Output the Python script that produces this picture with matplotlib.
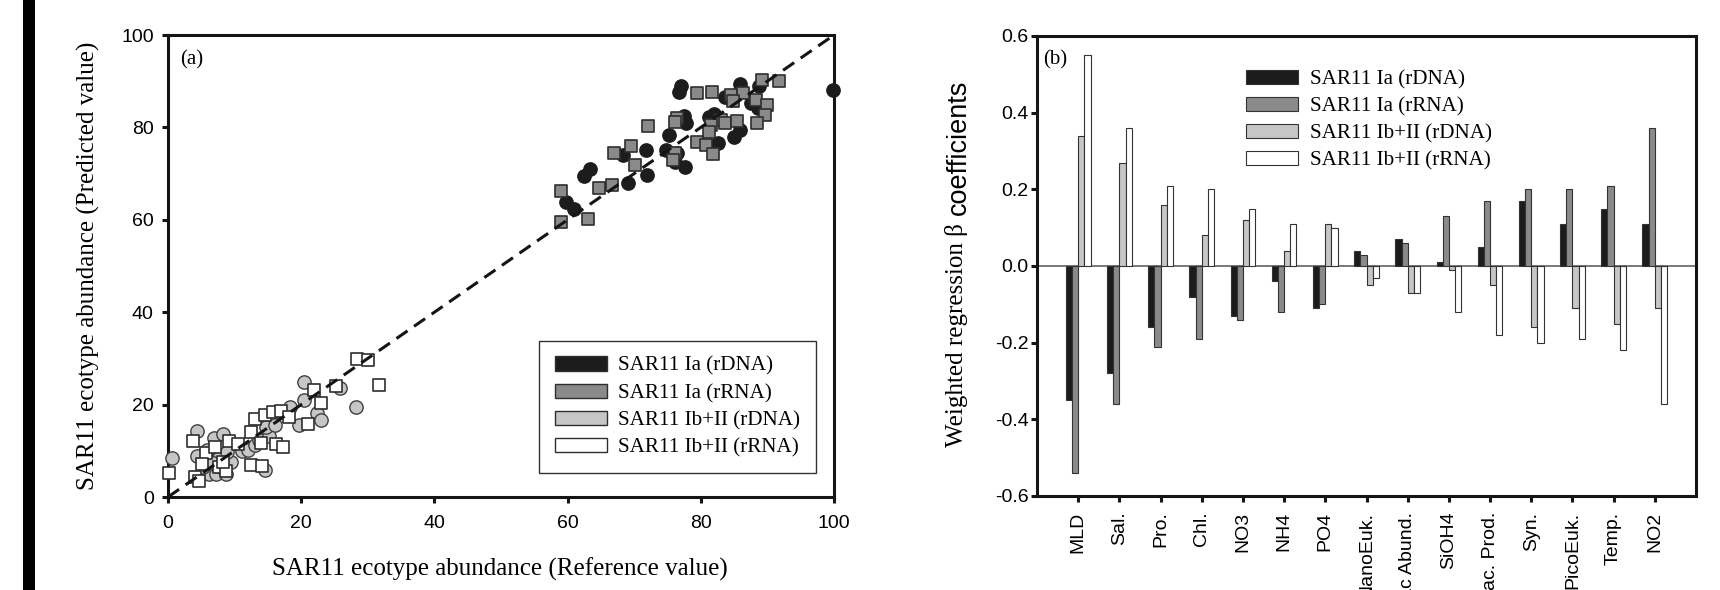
import matplotlib
matplotlib.use('Agg')
import matplotlib.pyplot as plt
from matplotlib.patches import Patch, Rectangle
import numpy as np

plt.rcParams['font.family'] = ['Liberation Sans', 'DejaVu Sans']
plt.rcParams['axes.unicode_minus'] = False

# ---------------- data: panel (a) ----------------
ia_rdna_x = [77.0, 76.8, 85.9, 88.8, 83.6, 87.6, 88.6, 77.5, 77.8, 82.0, 81.3, 85.9, 85.0,
             82.6, 75.3, 74.8, 76.5, 77.6, 76.1, 71.8, 68.3, 71.9, 69.0, 63.4, 62.5, 59.7,
             61.0, 99.8]
ia_rdna_y = [89.0, 87.6, 89.5, 89.0, 86.6, 85.2, 84.1, 82.5, 80.9, 83.0, 82.3, 79.4, 78.0,
             76.6, 78.4, 75.1, 74.4, 71.5, 72.6, 75.1, 74.0, 69.7, 67.9, 71.1, 69.5, 63.8,
             62.3, 88.2]

ia_rrna_x = [89.2, 91.8, 79.4, 81.7, 84.6, 86.3, 84.9, 88.3, 90.0, 89.6, 88.4, 76.5, 76.1,
             72.0, 83.1, 83.7, 85.5, 81.5, 81.2, 79.4, 80.8, 81.9, 76.2, 75.8, 69.5, 67.0,
             70.1, 64.7, 66.7, 59.0, 59.0, 63.0]
ia_rrna_y = [90.3, 90.0, 87.4, 87.7, 87.0, 87.5, 85.7, 85.9, 84.8, 82.7, 81.0, 82.0, 81.1,
             80.2, 81.6, 81.0, 81.4, 80.5, 79.1, 76.9, 76.1, 74.2, 74.4, 72.9, 76.0, 74.4,
             71.9, 66.9, 67.5, 66.2, 59.6, 60.2]

ib_rdna_x = [0.6, 4.3, 6.9, 8.2, 4.3, 5.9, 7.7, 9.5, 8.9, 11.1, 12.0, 13.0, 6.2, 7.2, 8.7,
             14.5, 13.7, 15.2, 14.7, 16.0, 18.3, 19.7, 20.4, 20.4, 22.3, 22.9, 25.8, 28.2,
             5.2, 7.9, 6.7]
ib_rdna_y = [8.4, 14.3, 12.7, 13.6, 8.9, 10.2, 8.5, 7.6, 9.8, 10.0, 10.2, 11.3, 5.0, 5.0, 5.0,
             5.8, 12.3, 13.2, 15.2, 15.6, 19.4, 15.6, 25.0, 21.1, 18.1, 16.7, 23.7, 19.5,
             6.6, 6.6, 7.3]

ib_rrna_x = [0.1, 3.8, 5.7, 7.1, 5.1, 4.1, 4.6, 7.6, 8.7, 9.1, 10.5, 12.5, 13.1, 13.9, 14.6,
             15.7, 17.0, 18.1, 16.2, 17.2, 12.5, 14.1, 21.0, 21.9, 22.9, 25.2, 28.4, 30.0,
             31.7, 8.2]
ib_rrna_y = [5.1, 12.2, 9.5, 10.8, 7.1, 4.4, 3.5, 6.4, 5.7, 12.1, 11.5, 14.1, 16.8, 11.6, 17.7,
             18.5, 18.6, 17.4, 11.5, 10.8, 6.9, 6.8, 15.8, 23.2, 20.4, 24.0, 29.9, 29.7,
             24.2, 7.6]

series_labels = ['SAR11 Ia (rDNA)', 'SAR11 Ia (rRNA)', 'SAR11 Ib+II (rDNA)', 'SAR11 Ib+II (rRNA)']

# ---------------- data: panel (b) ----------------
variables = ['MLD', 'Sal.', 'Pro.', 'Chl.', 'NO3', 'NH4', 'PO4', 'NanoEuk.', 'Bac Abund.',
             'SiOH4', 'Bac. Prod.', 'Syn.', 'PicoEuk.', 'Temp.', 'NO2']
beta_ia_rdna = [-0.35, -0.28, -0.16, -0.08, -0.13, -0.04, -0.11, 0.04, 0.07, 0.01, 0.05, 0.17, 0.11, 0.15, 0.11]
beta_ia_rrna = [-0.54, -0.36, -0.21, -0.19, -0.14, -0.12, -0.10, 0.03, 0.06, 0.13, 0.17, 0.20, 0.20, 0.21, 0.36]
beta_ib_rdna = [0.34, 0.27, 0.16, 0.08, 0.12, 0.04, 0.11, -0.05, -0.07, -0.01, -0.05, -0.16, -0.11, -0.15, -0.11]
beta_ib_rrna = [0.55, 0.36, 0.21, 0.20, 0.15, 0.11, 0.10, -0.03, -0.07, -0.12, -0.18, -0.20, -0.19, -0.22, -0.36]

# ---------------- styling ----------------
W, H = 1720, 590
def fx(px): return px / W
def fy(py): return 1 - py / H

C_BLACK = '#1c1c1c'
C_DARK = '#8a8a8a'
C_LIGHT = '#c6c6c6'
C_WHITE = '#ffffff'
EDGE = '#2e2e2e'
SERIF = ['Liberation Serif', 'DejaVu Serif']
SANS = ['Liberation Sans', 'DejaVu Sans']

fig = plt.figure(figsize=(17.2, 5.9), dpi=100)
fig.patches.append(Rectangle((fx(23), 0), fx(35) - fx(23), 1, transform=fig.transFigure,
                             facecolor='black', edgecolor='none'))

# ---------------- panel (a) ----------------
ax1 = fig.add_axes([fx(168), fy(497), fx(834) - fx(168), (497 - 35) / H])
kw_c = dict(marker='o', s=92, linewidths=1.0, clip_on=False, zorder=3)
kw_s = dict(marker='s', s=74, linewidths=1.2, clip_on=False, zorder=4)
ax1.scatter(ia_rdna_x, ia_rdna_y, facecolor=C_BLACK, edgecolor=C_BLACK, **kw_c)
ax1.scatter(ib_rdna_x, ib_rdna_y, facecolor=C_LIGHT, edgecolor='#404040', **kw_c)
ax1.scatter(ia_rrna_x, ia_rrna_y, facecolor=C_DARK, edgecolor=EDGE, **kw_s)
ax1.scatter(ib_rrna_x, ib_rrna_y, facecolor=C_WHITE, edgecolor=EDGE, **kw_s)
ax1.plot([0, 100], [0, 100], color='#151515', lw=2.2, ls=(0, (4.4, 2.6)), zorder=5)

ax1.set_xlim(0, 100)
ax1.set_ylim(0, 100)
ax1.set_xticks([0, 20, 40, 60, 80, 100])
ax1.set_yticks([0, 20, 40, 60, 80, 100])
for sp in ax1.spines.values():
    sp.set_linewidth(2.2)
    sp.set_color('#151515')
ax1.tick_params(axis='both', direction='out', length=4.2, width=2.2, color='#151515',
                labelsize=14, top=False, right=False)
ax1.tick_params(axis='x', pad=9)
ax1.tick_params(axis='y', pad=6)
ax1.text(0.018, 0.968, '(a)', transform=ax1.transAxes, ha='left', va='top',
         fontsize=15, family=SERIF)

handles = [Patch(facecolor=c, edgecolor=EDGE, linewidth=1.0)
           for c in [C_BLACK, C_DARK, C_LIGHT, C_WHITE]]
leg1 = ax1.legend(handles, series_labels, loc='lower right', bbox_to_anchor=(0.973, 0.052),
                  borderaxespad=0, prop={'family': SERIF, 'size': 15.2},
                  handlelength=2.45, handleheight=0.65, handletextpad=0.55,
                  labelspacing=0.36, borderpad=0.75, fancybox=False, framealpha=1)
leg1.get_frame().set_edgecolor('#333333')
leg1.get_frame().set_linewidth(1.0)

fig.text(fx(88), fy(266), 'SAR11 ecotype abundance (Predicted value)', rotation=90,
         ha='center', va='center', fontsize=18, family=SERIF)
fig.text(fx(500), fy(569), 'SAR11 ecotype abundance (Reference value)',
         ha='center', va='center', fontsize=18, family=SERIF)

# ---------------- panel (b) ----------------
ax2 = fig.add_axes([fx(1037), fy(496), fx(1696) - fx(1037), (496 - 36) / H])
xpos = np.arange(len(variables))
bw = 0.15
bar_series = [beta_ia_rdna, beta_ia_rrna, beta_ib_rdna, beta_ib_rrna]
bar_colors = [C_BLACK, C_DARK, C_LIGHT, C_WHITE]
ax2.axhline(0, color='#555555', lw=1.1, zorder=1)
for i, (vals, col) in enumerate(zip(bar_series, bar_colors)):
    ax2.bar(xpos + (i - 1.5) * bw, vals, width=bw, color=col, edgecolor='#333333',
            linewidth=0.8, label=series_labels[i], zorder=2)

ax2.set_xlim(-1, 15)
ax2.set_ylim(-0.6, 0.6)
yt = [-0.6, -0.4, -0.2, 0.0, 0.2, 0.4, 0.6]
ax2.set_yticks(yt)
ax2.set_yticklabels(['%.1f' % v for v in yt])
ax2.set_xticks(xpos)
ax2.set_xticklabels(variables, rotation=90)
for sp in ax2.spines.values():
    sp.set_linewidth(2.2)
    sp.set_color('#151515')
ax2.tick_params(axis='both', direction='out', length=4.2, width=2.2, color='#151515',
                labelsize=14, top=False, right=False)
ax2.tick_params(axis='x', pad=7)
ax2.tick_params(axis='y', pad=2)
ax2.text(0.01, 0.97, '(b)', transform=ax2.transAxes, ha='left', va='top',
         fontsize=15, family=SERIF)
leg2 = ax2.legend(loc='upper left', bbox_to_anchor=(0.305, 0.945), borderaxespad=0,
                  prop={'family': SERIF, 'size': 15.2}, frameon=False,
                  handlelength=2.45, handleheight=0.65, handletextpad=0.55, labelspacing=0.36)

t1 = fig.text(fx(957), fy(447), 'Weighted regression β', rotation=90, ha='center',
              va='bottom', fontsize=18, family=SERIF)
fig.canvas.draw()
bb = t1.get_window_extent(fig.canvas.get_renderer())
top_px = bb.y1 + 8  # display pixels from bottom
fig.text(fx(959), top_px / H, 'coefficients', rotation=90, ha='center', va='bottom',
         fontsize=19.5, family=SANS)

fig.savefig('out.png', dpi=100)
